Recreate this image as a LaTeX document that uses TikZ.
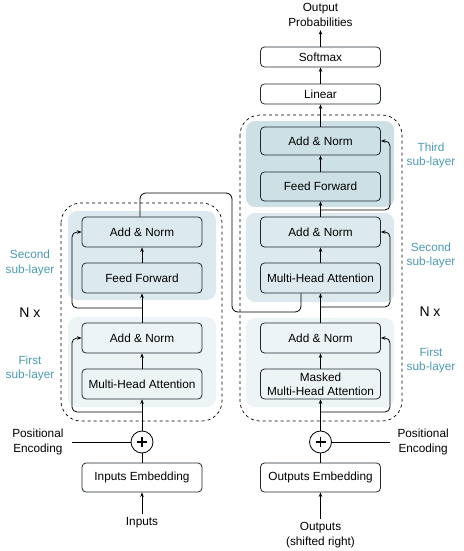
\documentclass[tikz,border=0pt]{standalone}
\usepackage{fontspec}
\setmainfont{Liberation Sans}
\usetikzlibrary{arrows.meta,calc}
\definecolor{bgA}{HTML}{EDF4F6}
\definecolor{bgB}{HTML}{DCE9EE}
\definecolor{bgC}{HTML}{CDE0E5}
\definecolor{lbl}{HTML}{4A9BB0}
\definecolor{edge}{HTML}{1E2A30}
\tikzset{
  every node/.style={font=\fontsize{11.8}{14.8}\selectfont},
  blk/.style={draw=edge, line width=0.8pt, rounded corners=4pt, minimum width=120pt, minimum height=30pt, inner sep=0pt, align=center},
  thin/.style={blk, minimum height=20pt},
  bgbox/.style={rounded corners=9pt, draw=none},
  outer/.style={draw=black, dashed, line width=0.7pt, rounded corners=20pt},
  arr/.style={-{Stealth[length=4.5pt,width=3.5pt]}, line width=0.8pt, draw=black},
  ln/.style={line width=0.8pt, draw=black},
  sub/.style={text=lbl, align=center},
  side/.style={align=center},
  nxs/.style={font=\fontsize{14}{16}\selectfont},
  plusc/.style={circle, draw=black, line width=0.8pt, minimum size=22pt, inner sep=0pt}
}
\begin{document}
\begin{tikzpicture}[x=1pt,y=-1pt]
\useasboundingbox (0,0) rectangle (463,551);
% backgrounds encoder
\fill[bgB, bgbox] (68,211) rectangle (216,300);
\fill[bgA, bgbox] (68,317) rectangle (216,407);
% backgrounds decoder
\fill[bgC, bgbox] (246,121) rectangle (394,207);
\fill[bgB, bgbox] (246,213) rectangle (394,302);
\fill[bgA, bgbox] (246,318) rectangle (394,407);
% dashed outer boxes
\draw[outer] (61,203) rectangle (222,421);
\draw[outer] (240,115) rectangle (402,421);

% encoder nodes
\node[blk] (ean2) at (142,232) {Add \& Norm};
\node[blk] (eff) at (142,278) {Feed Forward};
\node[blk] (ean1) at (142,338) {Add \& Norm};
\node[blk] (emha) at (142,384) {Multi-Head Attention};
\node[plusc] (epe) at (142,442) {};
\node[blk, minimum height=29pt] (eemb) at (142,477.5) {Inputs Embedding};
\node (inp) at (142,523) {Inputs};
\node[side, anchor=east] (epetxt) at (67,442) {Positional\\Encoding};

% decoder nodes
\node[blk, minimum height=28pt] (dan3) at (320.5,141) {Add \& Norm};
\node[blk, minimum height=29pt] (dff) at (320.5,186.5) {Feed Forward};
\node[blk] (dan2) at (320.5,232) {Add \& Norm};
\node[blk] (dmha) at (320.5,278) {Multi-Head Attention};
\node[blk] (dan1) at (320.5,338) {Add \& Norm};
\node[blk, font=\fontsize{11.8}{13.8}\selectfont] (dmmha) at (320.5,384) {Masked\\Multi-Head Attention};
\node[plusc] (dpe) at (320.5,442) {};
\node[blk, minimum height=29pt] (demb) at (320.5,477.5) {Outputs Embedding};
\node[side] (outp) at (320.5,535) {Outputs\\(shifted right)};
\node[side, anchor=west] (dpetxt) at (394,442) {Positional\\Encoding};
\node[thin] (lin) at (320.5,94) {Linear};
\node[thin] (soft) at (320.5,57) {Softmax};
\node[side] (prob) at (320.5,15) {Output\\Probabilities};

% labels
\node[sub] (l1) at (30,263) {Second\\sub-layer};
\node[nxs] (nx1) at (30,313) {N x};
\node[sub] (l2) at (30,368.5) {First\\sub-layer};
\node[sub] (l3) at (431,155.5) {Third\\sub-layer};
\node[sub] (l4) at (431,255.5) {Second\\sub-layer};
\node[nxs] (nx2) at (430,312) {N x};
\node[sub] (l5) at (431,360.5) {First\\sub-layer};

% plus signs
\draw[line width=1.3pt] ($(epe.center)+(-5,0)$) -- ($(epe.center)+(5,0)$) ($(epe.center)+(0,-5)$) -- ($(epe.center)+(0,5)$);
\draw[line width=1.3pt] ($(dpe.center)+(-5,0)$) -- ($(dpe.center)+(5,0)$) ($(dpe.center)+(0,-5)$) -- ($(dpe.center)+(0,5)$);

% encoder connectors
\draw[arr] (inp.north) -- (eemb.south);
\draw[ln] (eemb.north) -- (epe.south);
\coordinate (epl) at (72,442);
\draw[ln] (epl) -- (epe.west);
\draw[arr] (epe.north) -- (emha.south);
\draw[arr] (emha.north) -- (ean1.south);
\draw[arr] (ean1.north) -- (eff.south);
\draw[arr] (eff.north) -- (ean2.south);
\coordinate (er1) at (142,412);
\coordinate (er2) at (142,308);
\draw[arr, rounded corners=5pt] (er1) -| (72,350) |- (ean1.west);
\draw[arr, rounded corners=5pt] (er2) -| (72,245) |- (ean2.west);
% cross connection
\draw[ln, rounded corners=6pt] (ean2.north -| 140,0) -- (140,193) -- (232,193) -- (232,312) -- (301,312) -- (dmha.south -| 301,0);

% decoder connectors
\draw[arr] (outp.north) -- (demb.south);
\draw[ln] (demb.north) -- (dpe.south);
\coordinate (dpr) at (390,442);
\draw[ln] (dpe.east) -- (dpr);
\draw[arr] (dpe.north) -- (dmmha.south);
\draw[arr] (dmmha.north) -- (dan1.south);
\draw[arr] (dan1.north) -- (dmha.south);
\draw[arr] (dmha.north) -- (dan2.south);
\draw[arr] (dan2.north) -- (dff.south);
\draw[arr] (dff.north) -- (dan3.south);
\draw[arr] (dan3.north) -- (lin.south);
\draw[arr] (lin.north) -- (soft.south);
\draw[arr] (soft.north) -- (prob.south);
\coordinate (dr1) at (320.5,412);
\coordinate (dr2) at (320.5,307);
\coordinate (dr3) at (320.5,210);
\draw[arr, rounded corners=5pt] (dr1) -| (390,350) |- (dan1.east);
\draw[arr, rounded corners=5pt] (dr2) -| (390,245) |- (dan2.east);
\draw[arr, rounded corners=5pt] (dr3) -| (390,153) |- (dan3.east);
\end{tikzpicture}
\end{document}
